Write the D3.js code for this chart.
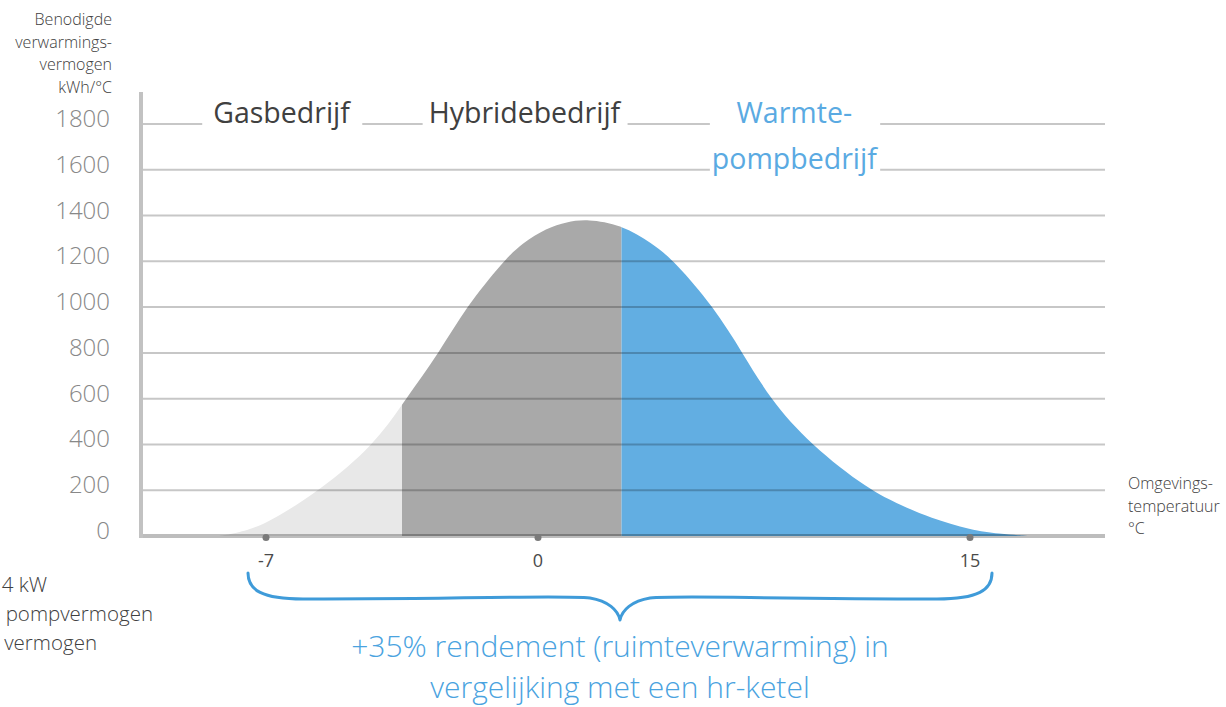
<!DOCTYPE html>
<html>
<head>
<meta charset="utf-8">
<script src="https://cdn.jsdelivr.net/npm/d3@7"></script>
<style>
  html, body { margin: 0; padding: 0; background: #fff; overflow: hidden; }
  svg { display: block; font-family: "Open Sans", "Noto Sans", sans-serif; }
</style>
</head>
<body>
<div id="chart"></div>
<script>
// ---- Data ----
const temps  = [-8.2, -7.85, -7.1, -5.6, -4.2, -3.4, -2.55, -1.85, -0.9, -0.4, 0.3, 1.0, 1.7, 2.9, 3.95, 4.75, 6.1, 7.1, 8.05, 9.45, 11.5, 12.6, 13.6, 15.05, 16.0, 17.0];
const demand = [0, 10, 40, 200, 400, 600, 800, 1000, 1200, 1280, 1345, 1372, 1385, 1360, 1280, 1200, 1000, 800, 600, 400, 200, 135, 80, 25, 10, 0];

const yTicks = [0, 200, 400, 600, 800, 1000, 1200, 1400, 1600, 1800];
const xTicks = [-7, 0, 15];

const regionNames  = ["Gasbedrijf", "Hybridebedrijf", "Warmtepompbedrijf"];
const regionLines  = [["Gasbedrijf"], ["Hybridebedrijf"], ["Warmte-", "pompbedrijf"]];
const regionBreaks = [-3.5, 2.9];

const yTitle = ["Benodigde", "verwarmings-", "vermogen", "kWh/°C"];
const xTitle = ["Omgevings-", "temperatuur", "°C"];
const sideNote = ["4 kW", "pompvermogen", "vermogen"];
const footNote = ["+35% rendement (ruimteverwarming) in", "vergelijking met een hr-ketel"];

// ---- Layout ----
const width = 1226, height = 707;
const plotLeft = 141, plotRight = 1105, axisTop = 92;
const xTickPx = [266, 538, 970];          // the x axis is not evenly spaced
const labelAt = [-6.6, -0.35, 8.9];       // label centres, in °C
const labelPad = [11, 6, 2];
const regionFill = ["#e8e8e8", "#a9a9a9", "#62aee2"];
const labelFill  = ["#404040", "#404040", "#5aaae2"];
const blue = "#4aa3df";

const x = d3.scaleLinear().domain(xTicks).range(xTickPx);
const y = d3.scaleLinear().domain([0, 1800]).range([536, 124]);

const svg = d3.select("#chart").append("svg")
  .attr("width", width)
  .attr("height", height)
  .attr("viewBox", [0, 0, width, height]);

// ---- Area, split in three regions with clip rects ----
const area = d3.area()
  .x((d, i) => x(temps[i]))
  .y0(y(0))
  .y1(d => y(d))
  .curve(d3.curveBasis);

const defs = svg.append("defs");
regionNames.forEach((name, i) => {
  const x0 = i === 0 ? plotLeft : x(regionBreaks[i - 1]);
  const x1 = i === regionNames.length - 1 ? plotRight : x(regionBreaks[i]);
  defs.append("clipPath").attr("id", "clip" + i)
    .append("rect")
    .attr("x", x0).attr("width", x1 - x0)
    .attr("y", 0).attr("height", height);
  svg.append("path")
    .datum(demand)
    .attr("clip-path", `url(#clip${i})`)
    .attr("fill", regionFill[i])
    .attr("d", area);
});

// ---- Grid, drawn on top with transparency ----
svg.append("g")
  .selectAll("line")
  .data(yTicks.filter(t => t > 0))
  .join("line")
  .attr("x1", plotLeft).attr("x2", plotRight)
  .attr("y1", d => y(d)).attr("y2", d => y(d))
  .attr("stroke", "#000")
  .attr("stroke-opacity", 0.22)
  .attr("stroke-width", 2);

// baseline
svg.append("line")
  .attr("x1", plotLeft).attr("x2", plotRight)
  .attr("y1", y(0)).attr("y2", y(0))
  .attr("stroke", "#000")
  .attr("stroke-opacity", 0.26)
  .attr("stroke-width", 4);

// vertical axis
svg.append("line")
  .attr("x1", plotLeft).attr("x2", plotLeft)
  .attr("y1", axisTop).attr("y2", y(0) + 2)
  .attr("stroke", "#c2c2c2")
  .attr("stroke-width", 4);

// y tick labels
svg.append("g")
  .selectAll("text")
  .data(yTicks)
  .join("text")
  .attr("x", 110)
  .attr("y", d => y(d) + 3)
  .attr("text-anchor", "end")
  .attr("font-size", 24)
  .attr("font-weight", 300)
  .attr("fill", "#888")
  .text(d => d);

// x ticks: dots + labels
const xt = svg.append("g")
  .selectAll("g")
  .data(xTicks)
  .join("g")
  .attr("transform", d => `translate(${x(d)},0)`);
xt.append("circle")
  .attr("cy", y(0) + 1.5)
  .attr("r", 3.5)
  .attr("fill", "#7a7a7a");
xt.append("text")
  .attr("y", 567)
  .attr("text-anchor", "middle")
  .attr("font-size", 18)
  .attr("fill", "#4a4a4a")
  .text(d => d);

// ---- Region labels with white gaps in the grid ----
regionLines.forEach((lines, i) => {
  const g = svg.append("g").attr("transform", `translate(${x(labelAt[i])},0)`);
  const bg = g.append("rect").attr("fill", "#fff");
  g.selectAll("text")
    .data(lines)
    .join("text")
    .attr("y", (d, k) => y(1800 - 200 * k) - 1)
    .attr("text-anchor", "middle")
    .attr("font-size", 28.5)
    .attr("fill", labelFill[i])
    .text(d => d);
  const b = g.node().getBBox();
  bg.attr("x", b.x - labelPad[i])
    .attr("width", b.width + 2 * labelPad[i])
    .attr("y", b.y)
    .attr("height", b.height);
});

// ---- Axis titles ----
svg.append("g")
  .selectAll("text")
  .data(yTitle)
  .join("text")
  .attr("x", 112)
  .attr("y", (d, k) => 25 + k * 22.5)
  .attr("text-anchor", "end")
  .attr("font-size", 16)
  .attr("font-weight", 300)
  .attr("fill", "#404040")
  .text(d => d);

svg.append("g")
  .selectAll("text")
  .data(xTitle)
  .join("text")
  .attr("x", 1128)
  .attr("y", (d, k) => 489 + k * 22.5)
  .attr("font-size", 16)
  .attr("font-weight", 300)
  .attr("fill", "#404040")
  .text(d => d);

// side note at the left edge
const noteEnds = [47, 153, 97];
svg.append("g")
  .selectAll("text")
  .data(sideNote)
  .join("text")
  .attr("x", (d, k) => noteEnds[k])
  .attr("y", (d, k) => 592 + k * 29)
  .attr("text-anchor", "end")
  .attr("font-size", 20.5)
  .attr("font-weight", 300)
  .attr("fill", "#404040")
  .text(d => d);

// ---- Brace ----
const bx0 = x(xTicks[0]) - 18, bx1 = x(xTicks[2]) + 22;
const bm = (bx0 + bx1) / 2, bTop = 573, bMid = 598, bTip = 620;
const p = d3.path();
p.moveTo(bx0, bTop);
p.bezierCurveTo(bx0, bMid - 8, bx0 + 14, bMid + 1, bx0 + 55, bMid + 1);
p.bezierCurveTo(bm - 140, bMid + 1, bm - 60, bMid - 3, bm - 30, bMid);
p.bezierCurveTo(bm - 12, bMid + 3, bm - 2, bTip - 10, bm, bTip);
p.bezierCurveTo(bm + 2, bTip - 10, bm + 12, bMid + 3, bm + 30, bMid);
p.bezierCurveTo(bm + 60, bMid - 3, bm + 140, bMid + 1, bx1 - 55, bMid + 1);
p.bezierCurveTo(bx1 - 14, bMid + 1, bx1, bMid - 8, bx1, bTop);
svg.append("path")
  .attr("d", p.toString())
  .attr("fill", "none")
  .attr("stroke", "#3f9bd9")
  .attr("stroke-width", 3)
  .attr("stroke-linecap", "round")
  .attr("stroke-linejoin", "round");

svg.append("g")
  .selectAll("text")
  .data(footNote)
  .join("text")
  .attr("x", bm)
  .attr("y", (d, k) => 657 + k * 41)
  .attr("text-anchor", "middle")
  .attr("font-size", 30)
  .attr("font-weight", 300)
  .attr("fill", blue)
  .text(d => d);
</script>
</body>
</html>
